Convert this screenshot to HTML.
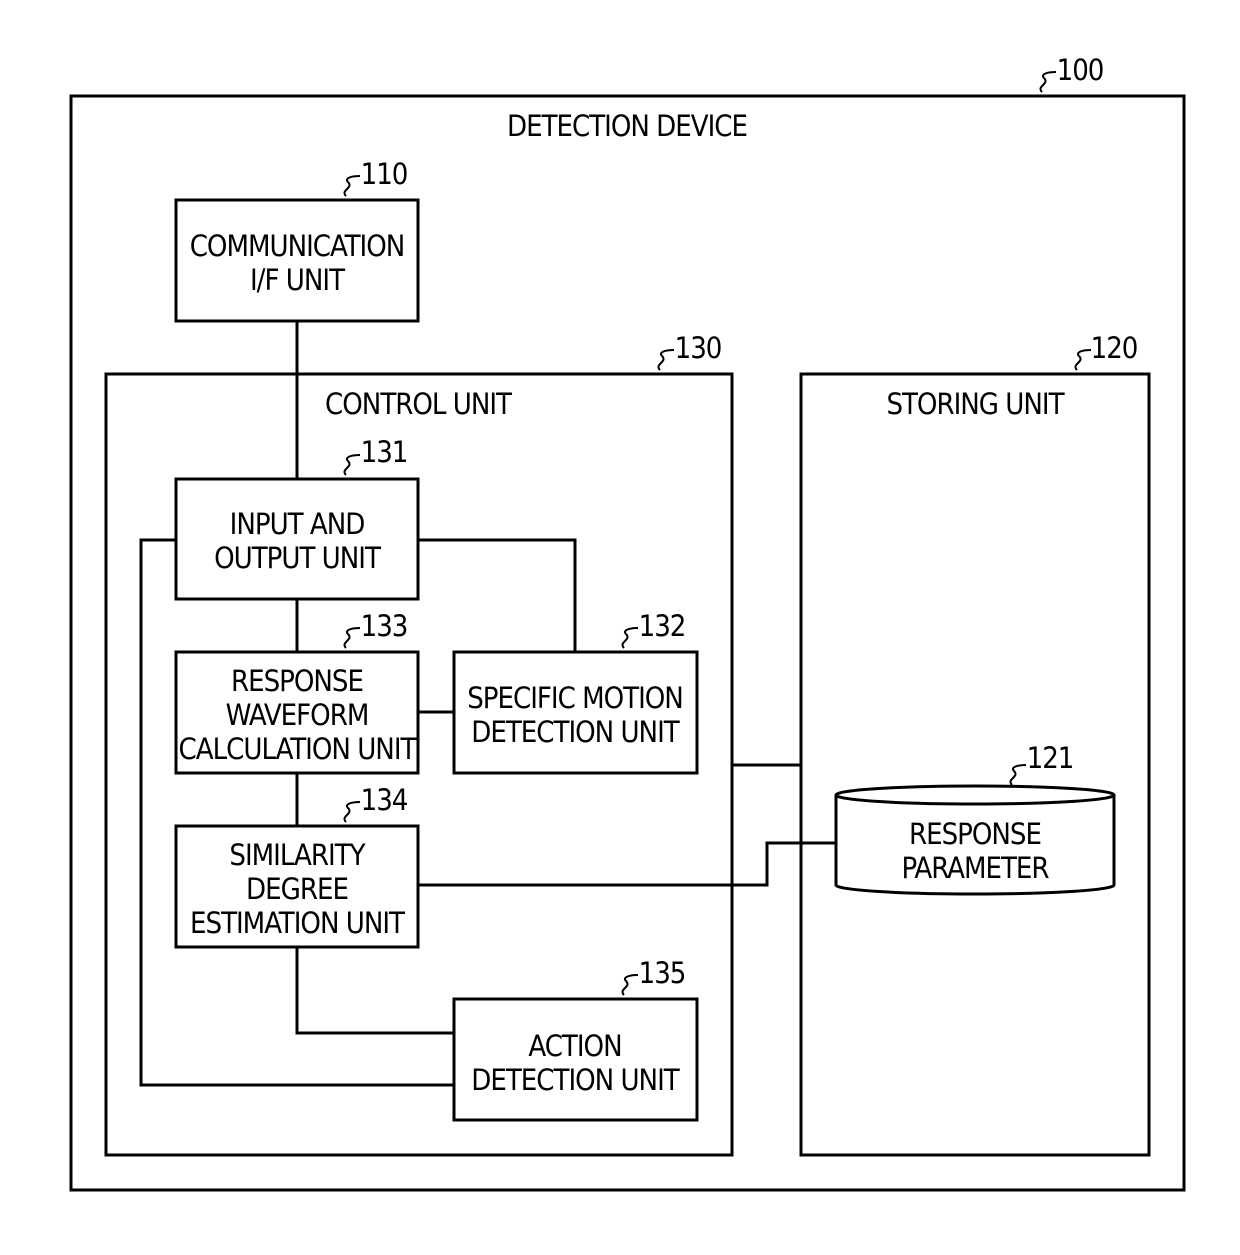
<!DOCTYPE html>
<html><head><meta charset="utf-8"><style>
html,body{margin:0;padding:0;background:#fff}
svg text{font-family:"DejaVu Sans Condensed","Liberation Sans Narrow","Liberation Sans",sans-serif;font-size:29px;letter-spacing:-1px;fill:#000;text-anchor:middle}
</style></head><body>
<svg width="1240" height="1250" viewBox="0 0 1240 1250" xmlns="http://www.w3.org/2000/svg">
<g fill="none" stroke="#000" stroke-width="3">
<rect x="71" y="96" width="1113" height="1094"/>
<rect x="176" y="200" width="242" height="121"/>
<rect x="106" y="374" width="626" height="781"/>
<rect x="801" y="374" width="348" height="781"/>
<rect x="176" y="479" width="242" height="120"/>
<rect x="176" y="652" width="242" height="121"/>
<rect x="454" y="652" width="243" height="121"/>
<rect x="176" y="826" width="242" height="121"/>
<rect x="454" y="999" width="243" height="121"/>
<path d="M297 321V479M297 599V652M297 773V826M297 947V1033H454M176 540H141V1085H454M418 540H575V652M418 712H454M732 765H801M418 885H767V843H836"/>
<path d="M836 795V885A139 9 0 0 0 1114 885V795" fill="#fff"/>
<ellipse cx="975" cy="795" rx="139" ry="9" fill="#fff"/>
</g>
<g fill="none" stroke="#000" stroke-width="2">
<path d="M1042 92c-6-6 8-8 2-14c-4-4 4-6 12-6"/>
<path d="M346 196c-6-6 8-8 2-14c-4-4 4-6 12-6"/>
<path d="M660 370c-6-6 8-8 2-14c-4-4 4-6 12-6"/>
<path d="M1077 370c-6-6 8-8 2-14c-4-4 4-6 12-6"/>
<path d="M346 475c-6-6 8-8 2-14c-4-4 4-6 12-6"/>
<path d="M346 648c-6-6 8-8 2-14c-4-4 4-6 12-6"/>
<path d="M624 648c-6-6 8-8 2-14c-4-4 4-6 12-6"/>
<path d="M346 822c-6-6 8-8 2-14c-4-4 4-6 12-6"/>
<path d="M624 995c-6-6 8-8 2-14c-4-4 4-6 12-6"/>
<path d="M1012 785c-6-6 8-8 2-14c-4-4 4-6 12-6"/>
</g>
<text x="1080" y="80">100</text>
<text x="384" y="184">110</text>
<text x="698" y="358">130</text>
<text x="1114" y="358">120</text>
<text x="384" y="462">131</text>
<text x="384" y="636">133</text>
<text x="662" y="636">132</text>
<text x="384" y="810">134</text>
<text x="662" y="983">135</text>
<text x="1050" y="768">121</text>
<text x="627" y="136">DETECTION DEVICE</text>
<text x="297" y="256">COMMUNICATION</text>
<text x="297" y="290">I/F UNIT</text>
<text x="418" y="414">CONTROL UNIT</text>
<text x="975" y="414">STORING UNIT</text>
<text x="297" y="534">INPUT AND</text>
<text x="297" y="568">OUTPUT UNIT</text>
<text x="297" y="691">RESPONSE</text>
<text x="297" y="725">WAVEFORM</text>
<text x="297" y="759">CALCULATION UNIT</text>
<text x="575" y="708">SPECIFIC MOTION</text>
<text x="575" y="742">DETECTION UNIT</text>
<text x="297" y="865">SIMILARITY</text>
<text x="297" y="899">DEGREE</text>
<text x="297" y="933">ESTIMATION UNIT</text>
<text x="575" y="1056">ACTION</text>
<text x="575" y="1090">DETECTION UNIT</text>
<text x="975" y="844">RESPONSE</text>
<text x="975" y="878">PARAMETER</text>
</svg>
</body></html>
